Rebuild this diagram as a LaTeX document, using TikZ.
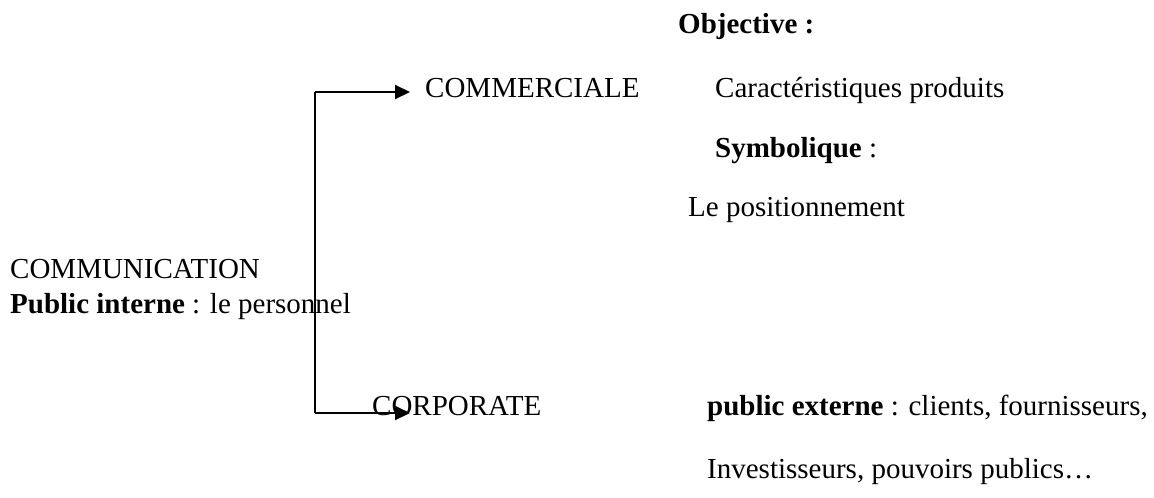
\documentclass[tikz,border=0pt]{standalone}
\usepackage{fontspec}
\setmainfont{Liberation Serif}
\usetikzlibrary{arrows.meta}
\begin{document}
\begin{tikzpicture}[x=1pt,y=-1pt,
  txt/.style={anchor=base west,inner sep=0pt,font=\fontsize{29}{35}\selectfont},
  conn/.style={line width=2pt,-{Triangle[length=15pt,width=14pt]}}]
\useasboundingbox (0,0) rectangle (1154,498);
\node[txt] (obj) at (678,33) {\textbf{Objective :}};
\node[txt] (car) at (715,97) {Caractéristiques produits};
\node[txt] (com) at (425,97) {COMMERCIALE};
\node[txt] (sym) at (715,157) {\textbf{Symbolique} :};
\node[txt] (pos) at (688,216) {Le positionnement};
\node[txt] (comm) at (10,278) {COMMUNICATION};
\node[txt] (pint) at (10,313) {\textbf{Public interne} : le personnel};
\node[txt] (corp) at (372,415) {CORPORATE};
\node[txt] (pext) at (707,415) {\textbf{public externe} : clients, fournisseurs,};
\node[txt] (inv) at (707,478) {Investisseurs, pouvoirs publics…};
\coordinate (top) at (315,92);
\coordinate (bot) at (315,413);
\coordinate (tipA) at (410,92);
\coordinate (tipB) at (410,413);
\draw[line width=2pt] (bot) -- (top);
\draw[conn] (top) -- (tipA);
\draw[conn] (bot) -- (tipB);
\end{tikzpicture}
\end{document}
